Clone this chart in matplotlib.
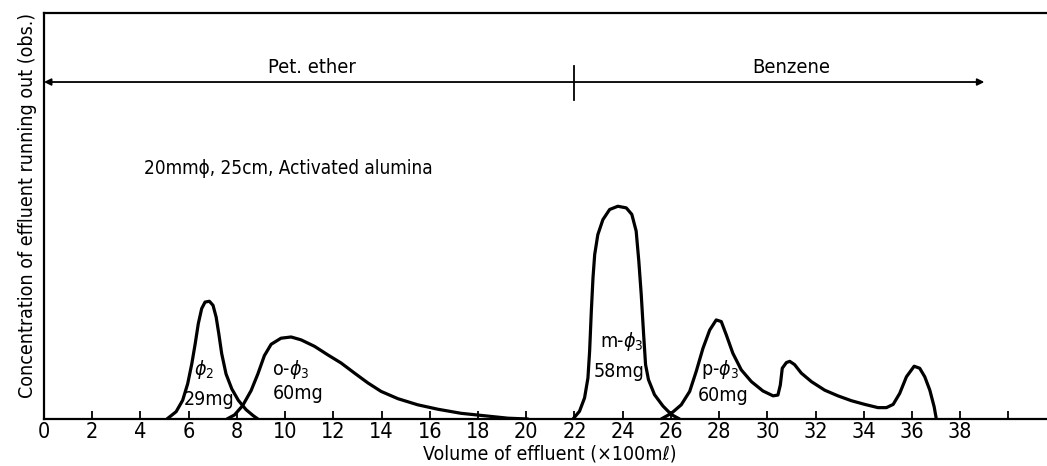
import matplotlib
matplotlib.use("Agg")
import matplotlib.pyplot as plt

# ---------- Elution curves (volume in 100 mL units, concentration in arbitrary units) ----------
phi2_x = [5.10, 5.48, 5.75, 5.96, 6.13, 6.27, 6.40, 6.54, 6.68, 6.86, 7.01, 7.14, 7.25, 7.37,
          7.55, 7.79, 8.06, 8.38, 8.66, 8.87]
phi2_y = [0.0, 1.8, 4.6, 8.7, 13.6, 18.5, 23.5, 27.2, 28.8, 29.0, 28.0, 25.1, 21.0, 16.1,
          11.1, 7.4, 4.6, 2.3, 0.9, 0.0]

o_x = [7.59, 7.90, 8.24, 8.59, 8.87, 9.14, 9.42, 9.83, 10.25, 10.66, 11.22, 11.77, 12.32,
       12.88, 13.43, 13.98, 14.68, 15.50, 16.34, 17.30, 18.27, 19.24, 20.07]
o_y = [0.0, 1.0, 3.3, 7.0, 11.1, 15.6, 18.4, 19.9, 20.2, 19.5, 17.9, 15.8, 13.8,
       11.3, 8.9, 6.8, 5.0, 3.5, 2.4, 1.4, 0.8, 0.2, 0.0]

m_x = [21.94, 22.21, 22.42, 22.56, 22.63, 22.70, 22.77, 22.84, 22.97, 23.18, 23.46, 23.80,
       24.15, 24.38, 24.56, 24.67, 24.77, 24.87, 24.95, 25.07, 25.32, 25.67, 26.02, 26.36]
m_y = [0.0, 1.9, 5.2, 10.1, 16.7, 26.5, 34.8, 40.5, 45.4, 49.1, 51.6, 52.4,
       52.0, 50.4, 46.3, 38.9, 30.7, 20.8, 13.4, 9.7, 6.0, 3.2, 1.1, 0.0]

p_x = [25.60, 26.02, 26.43, 26.78, 27.05, 27.33, 27.61, 27.88, 28.09, 28.30, 28.57, 28.92,
       29.34, 29.82, 30.24, 30.44, 30.54, 30.62, 30.79, 30.93, 31.13, 31.41, 31.83, 32.38,
       32.93, 33.49, 34.04, 34.59, 34.94, 35.22, 35.49, 35.77, 36.09, 36.32, 36.53, 36.74,
       36.92, 37.01]
p_y = [0.0, 1.4, 3.5, 6.8, 11.7, 17.4, 21.9, 24.4, 24.0, 20.7, 16.2, 12.1,
       9.2, 6.9, 5.7, 5.9, 8.4, 12.5, 13.9, 14.2, 13.4, 11.3, 9.2, 7.1,
       5.7, 4.5, 3.6, 2.8, 2.8, 3.6, 6.3, 10.4, 13.0, 12.5, 10.4, 7.1,
       3.0, 0.0]

xticks = list(range(0, 41, 2))
xtick_labels = [str(v) for v in range(0, 39, 2)] + [""]

solvents = ["Pet. ether", "Benzene"]
solvent_bounds = [0.0, 22.0, 39.0]

plt.rcParams["font.family"] = ["DejaVu Sans"]
plt.rcParams["font.stretch"] = "condensed"
plt.rcParams["mathtext.fontset"] = "dejavusans"

fig = plt.figure(figsize=(10.47, 4.66), dpi=100)
ax = fig.add_axes([44 / 1047, 47 / 466, 1 - 44 / 1047, 406 / 466])

for xs, ys in [(phi2_x, phi2_y), (o_x, o_y), (m_x, m_y), (p_x, p_y)]:
    ax.plot(xs, ys, color="black", lw=2.3, solid_joinstyle="round", solid_capstyle="round")

# solvent arrow and the change-over mark
arrow_y = 83
ax.annotate("", xy=(solvent_bounds[0], arrow_y), xytext=(solvent_bounds[2], arrow_y),
            arrowprops=dict(arrowstyle="<|-|>", color="black", lw=1.3,
                            mutation_scale=10, shrinkA=0, shrinkB=0))
ax.plot([solvent_bounds[1]] * 2, [78.6, 86.9], color="black", lw=1.3)
ax.text((solvent_bounds[0] + solvent_bounds[1]) / 2 + 0.1, arrow_y + 1.3, solvents[0],
        ha="center", va="bottom", fontsize=14.5)
ax.text((solvent_bounds[1] + solvent_bounds[2]) / 2 + 0.5, arrow_y + 1.3, solvents[1],
        ha="center", va="bottom", fontsize=14.5)

ax.text(4.15, 61.8, "20mmϕ, 25cm, Activated alumina", ha="left", va="center", fontsize=13.6)

# peak annotations
lab = dict(ha="center", va="center", fontsize=14)
ax.text(6.64, 12.1, r"$\phi_2$", **lab)
ax.text(6.85, 4.9, "29mg", **lab)
ax.text(10.25, 12.1, r"o-$\phi_3$", **lab)
ax.text(10.53, 6.3, "60mg", **lab)
ax.text(23.94, 19.0, r"m-$\phi_3$", **lab)
ax.text(23.87, 11.6, "58mg", **lab)
ax.text(28.02, 12.1, r"p-$\phi_3$", **lab)
ax.text(28.16, 5.9, "60mg", **lab)

ax.set_xlim(0, 41.6)
ax.set_ylim(0, 100)
ax.set_xticks(xticks)
ax.set_xticklabels(xtick_labels, fontsize=15.5)
ax.set_yticks([])
ax.tick_params(axis="x", direction="in", length=6, width=1.3, pad=2)
ax.spines["right"].set_visible(False)
for s in ["left", "bottom", "top"]:
    ax.spines[s].set_linewidth(1.6)

ax.set_xlabel("Volume of effluent (×100mℓ)", fontsize=14)
ax.xaxis.set_label_coords(0.504, -0.063)
ax.set_ylabel("Concentration of effluent running out (obs.)", fontsize=14)
ax.yaxis.set_label_coords(-0.007, 0.527)

fig.savefig("out.png", dpi=100)
